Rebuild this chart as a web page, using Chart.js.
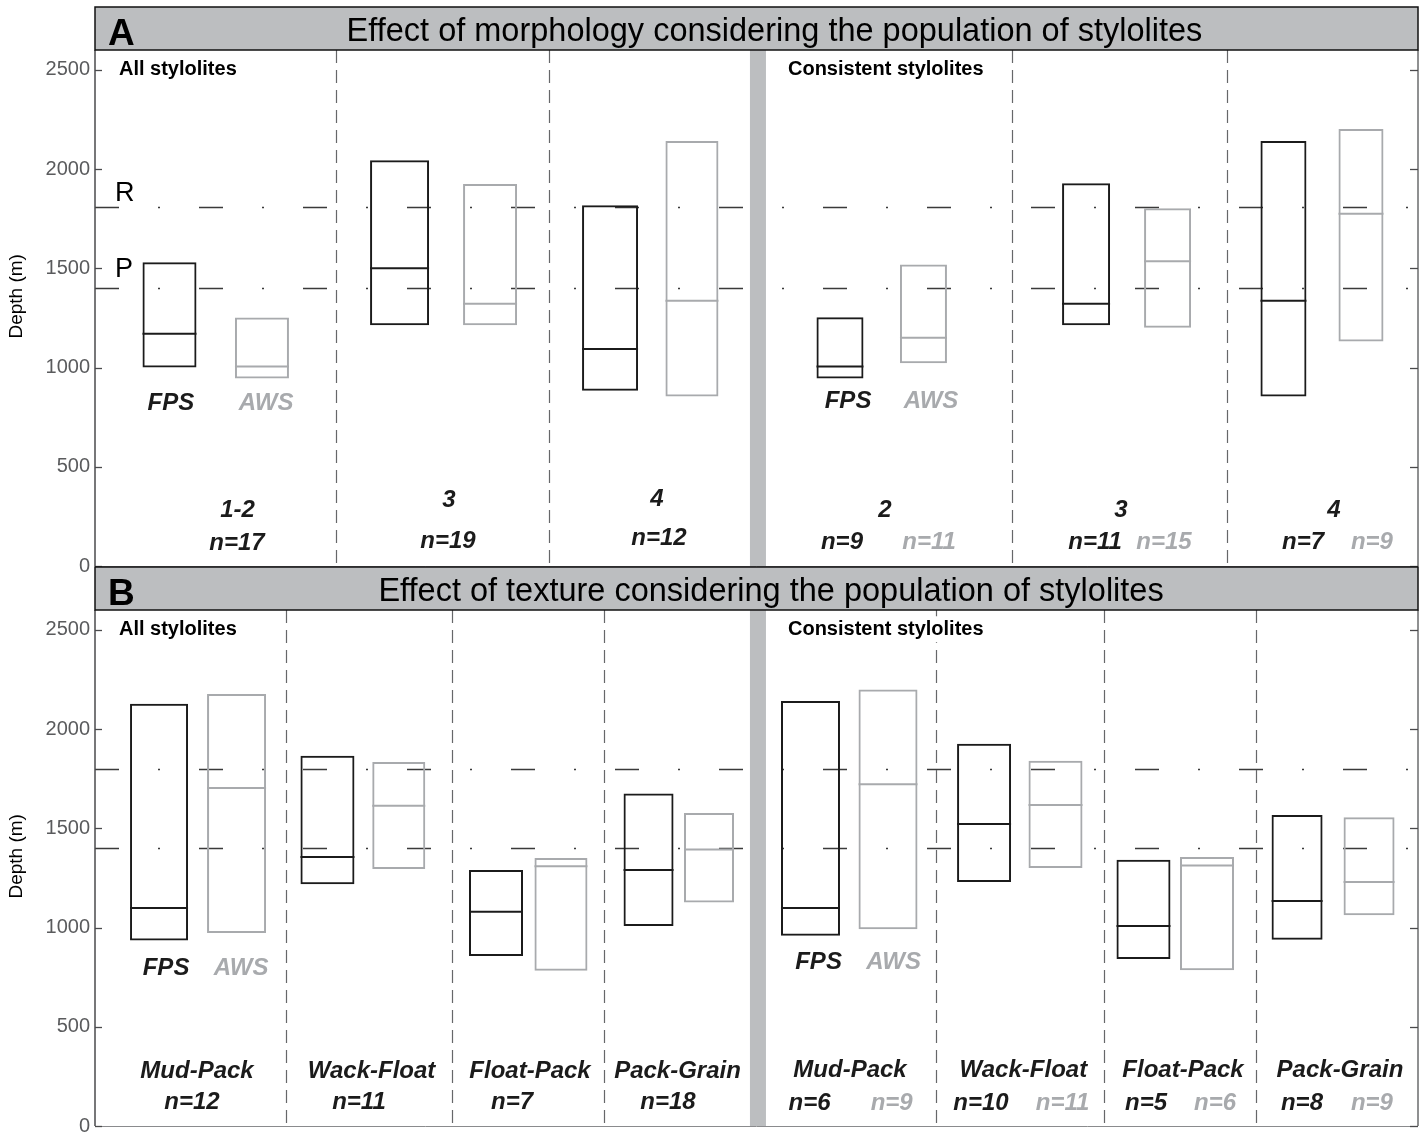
<!DOCTYPE html>
<html>
<head>
<meta charset="utf-8">
<title>Stylolite depth ranges</title>
<script src="https://cdn.jsdelivr.net/npm/chart.js@4.4.1/dist/chart.umd.min.js"></script>
<style>
  html, body { margin: 0; padding: 0; background: #fff; }
  body { width: 1420px; height: 1132px; position: relative; overflow: hidden; }
  canvas { position: absolute; left: 0; }
  #chartA { top: 0; z-index: 1; }
  #chartB { top: 560px; z-index: 2; }
</style>
</head>
<body>
<canvas id="chartA" width="1420" height="600"></canvas>
<canvas id="chartB" width="1420" height="600"></canvas>
<script>
// ---------- Panel A: morphology classes ----------
const morphAllClasses  = ['1-2', '3', '4'];
const morphAllN        = [17, 19, 12];
const morphAllFpsMin   = [1000, 1213, 883];
const morphAllFpsMed   = [1170, 1500, 1093];
const morphAllFpsMax   = [1530, 2044, 1818];
const morphAllAwsMin   = [945, 1213, 854];
const morphAllAwsMed   = [1005, 1322, 1336];
const morphAllAwsMax   = [1252, 1925, 2141];

const morphConsClasses = ['2', '3', '4'];
const morphConsFpsN    = [9, 11, 7];
const morphConsAwsN    = [11, 15, 9];
const morphConsFpsMin  = [945, 1213, 854];
const morphConsFpsMed  = [1005, 1322, 1336];
const morphConsFpsMax  = [1254, 1928, 2141];
const morphConsAwsMin  = [1022, 1200, 1131];
const morphConsAwsMed  = [1150, 1536, 1775];
const morphConsAwsMax  = [1519, 1803, 2202];

// ---------- Panel B: texture classes ----------
const textureClasses   = ['Mud-Pack', 'Wack-Float', 'Float-Pack', 'Pack-Grain'];
const textureAllN      = [12, 11, 7, 18];
const textureAllFpsMin = [935, 1218, 856, 1008];
const textureAllFpsMed = [1099, 1356, 1079, 1290];
const textureAllFpsMax = [2128, 1866, 1290, 1675];
const textureAllAwsMin = [973, 1295, 782, 1126];
const textureAllAwsMed = [1703, 1614, 1309, 1393];
const textureAllAwsMax = [2177, 1834, 1351, 1577];

const textureConsFpsN   = [6, 10, 5, 8];
const textureConsAwsN   = [9, 11, 6, 9];
const textureConsFpsMin = [958, 1230, 842, 938];
const textureConsFpsMed = [1099, 1522, 1008, 1134];
const textureConsFpsMax = [2141, 1926, 1341, 1567];
const textureConsAwsMin = [992, 1300, 785, 1062];
const textureConsAwsMed = [1722, 1618, 1312, 1229];
const textureConsAwsMax = [2200, 1841, 1356, 1556];

// ---------- shared axis / reference values ----------
const depthTicks   = [0, 500, 1000, 1500, 2000, 2500];
const depthMax     = 2600;
const refLabels    = ['R', 'P'];
const refDepthsA   = [1810, 1400];
const refDepthsB   = [1800, 1400];
const seriesNames  = ['FPS', 'AWS'];
const subsetNames  = ['All stylolites', 'Consistent stylolites'];

// ---------- styling ----------
const INK   = '#1b1b1b';
const GREY  = '#a8aaad';
const BAND  = '#bcbec0';
const FONT  = "'Liberation Sans', Arial, Helvetica, sans-serif";

// ---------- layout (x in 0-100 units across the plot, widths in px) ----------
const layoutA = {
  fpsX: [5.63, 23.02, 38.93, 56.31, 74.91, 89.83],
  awsX: [12.62, 29.86, 45.12, 62.62, 81.07, 95.69],
  fpsW: [54, 59, 56, 47, 48, 46],
  awsW: [54, 54, 53, 47, 47, 45],
  dividers: [18.20, 34.29, 69.31, 85.60],
  band: 50.11,
  subsetX: [1.81, 52.38], subsetD: 2503,
  seriesX: [5.74, 12.93, 56.92, 63.19], seriesD: [821, 821, 831, 831],
  classX: [10.77, 26.76, 42.48, 59.71, 77.55, 93.65],
  classD: [282, 332, 337, 278, 278, 278],
  fpsNX: [10.73, 26.68, 42.63, 56.46, 75.59, 91.31],
  fpsND: [116, 126, 141, 117, 117, 117],
  awsNX: [63.04, 80.80, 96.52], awsND: 117,
  refLabelX: 1.51, refLabelD: [1878, 1492],
  titleX: 51.36
};
const layoutB = {
  fpsX: [4.84, 17.57, 30.31, 41.84, 54.08, 67.20, 79.25, 90.86],
  awsX: [10.70, 22.96, 35.22, 46.41, 59.94, 72.60, 84.05, 96.30],
  fpsW: [58, 54, 54, 50, 59, 54, 54, 51],
  awsW: [59, 53, 53, 50, 59, 54, 54, 51],
  dividers: [14.41, 27.02, 38.51, 63.57, 76.23, 87.75],
  band: 50.11,
  subsetX: [1.81, 52.38], subsetD: 2503,
  seriesX: [5.37, 11.04, 54.69, 60.36], seriesD: [796, 796, 823, 823],
  classX: [7.71, 20.90, 32.88, 44.03, 57.07, 70.17, 82.24, 94.10],
  classD: [277, 277, 277, 277, 282, 282, 282, 282],
  fpsNX: [7.33, 19.95, 31.52, 43.31, 54.01, 66.97, 79.44, 91.23],
  fpsND: [121, 121, 121, 121, 116, 116, 116, 116],
  awsNX: [60.22, 73.14, 84.66, 96.52], awsND: 116,
  refLabelX: null, refLabelD: [],
  titleX: 51.10
};

function boxSet(u, lo, hi, w, color) {
  return {
    type: 'bar',
    data: [{ x: u, y: [lo, hi] }],
    backgroundColor: 'rgba(0,0,0,0)',
    borderColor: color,
    borderWidth: 2,
    borderSkipped: false,
    inflateAmount: 0,
    barThickness: w,
    maxBarThickness: w,
    barPercentage: 1,
    categoryPercentage: 1,
    grouped: false
  };
}

function medianSet(xs, meds, ws, color) {
  return {
    type: 'line',
    data: xs.map((u, i) => ({ x: u, y: meds[i] })),
    showLine: false,
    pointStyle: 'line',
    pointRadius: ws.map(w => w / 2),
    pointHoverRadius: ws.map(w => w / 2),
    pointBorderColor: color,
    pointBackgroundColor: color,
    pointBorderWidth: 2
  };
}

function text(ctx, str, px, py, font, color, align) {
  ctx.font = font;
  ctx.fillStyle = color;
  ctx.textAlign = align || 'center';
  ctx.textBaseline = 'middle';
  ctx.fillText(str, px, py);
}

function decorations(p) {
  return {
    id: 'decor' + p.letter,
    beforeDatasetsDraw(chart) {
      const { ctx, chartArea: a, scales: { x, y } } = chart;
      ctx.save();
      // dash-dot reference depths
      ctx.strokeStyle = '#3a3a3a';
      ctx.lineWidth = 1.3;
      ctx.setLineDash([24, 39, 2, 39]);
      p.refDepths.forEach(d => {
        const py = Math.round(y.getPixelForValue(d)) + 0.5;
        ctx.beginPath(); ctx.moveTo(a.left, py); ctx.lineTo(a.right, py); ctx.stroke();
      });
      // dashed class dividers
      ctx.strokeStyle = '#666769';
      ctx.lineWidth = 1.2;
      ctx.setLineDash([13, 7]);
      p.layout.dividers.forEach(u => {
        const px = Math.round(x.getPixelForValue(u)) + 0.5;
        ctx.beginPath(); ctx.moveTo(px, a.top); ctx.lineTo(px, a.bottom); ctx.stroke();
      });
      ctx.setLineDash([]);
      // band separating all / consistent stylolites
      const bx = x.getPixelForValue(p.layout.band);
      ctx.fillStyle = BAND;
      ctx.fillRect(bx - 8, a.top, 16, a.bottom - a.top);
      ctx.restore();
    },
    afterDraw(chart) {
      const { ctx, chartArea: a, scales: { x, y } } = chart;
      const L = p.layout;
      ctx.save();
      // frame
      ctx.strokeStyle = '#8a8b8d';
      ctx.lineWidth = 1;
      ctx.beginPath(); ctx.moveTo(a.left, a.bottom + 0.5); ctx.lineTo(a.right, a.bottom + 0.5); ctx.stroke();
      ctx.strokeStyle = '#4a4a4c';
      ctx.lineWidth = 1.5;
      ctx.beginPath(); ctx.moveTo(a.left, a.top); ctx.lineTo(a.left, a.bottom); ctx.stroke();
      ctx.strokeStyle = '#6a6b6d';
      ctx.beginPath(); ctx.moveTo(a.right, a.top); ctx.lineTo(a.right, a.bottom); ctx.stroke();
      // inward ticks on both sides
      ctx.strokeStyle = '#4a4a4c';
      ctx.lineWidth = 1.3;
      depthTicks.forEach(v => {
        const py = Math.round(y.getPixelForValue(v)) + 0.5;
        ctx.beginPath(); ctx.moveTo(a.left, py); ctx.lineTo(a.left + 7, py); ctx.stroke();
        ctx.beginPath(); ctx.moveTo(a.right - 8, py); ctx.lineTo(a.right, py); ctx.stroke();
      });
      // header bar
      ctx.fillStyle = BAND;
      ctx.fillRect(a.left, a.top - 43, a.right - a.left, 43);
      ctx.strokeStyle = '#111';
      ctx.lineWidth = 1.5;
      ctx.strokeRect(a.left, a.top - 43, a.right - a.left, 43);
      ctx.fillStyle = '#000';
      ctx.textBaseline = 'alphabetic';
      ctx.textAlign = 'left';
      ctx.font = 'bold 37px ' + FONT;
      ctx.fillText(p.letter, a.left + 13, a.top - 5);
      ctx.textAlign = 'center';
      ctx.font = '32.5px ' + FONT;
      ctx.fillText(p.title, x.getPixelForValue(L.titleX), a.top - 9.5);

      // axis title
      ctx.save();
      ctx.translate(17, y.getPixelForValue(1359));
      ctx.rotate(-Math.PI / 2);
      text(ctx, 'Depth (m)', 0, 0, '19px ' + FONT, '#000');
      ctx.restore();

      // subset captions, knocked out of the dividers behind them
      subsetNames.forEach((s, i) => {
        const px = x.getPixelForValue(L.subsetX[i]);
        const py = y.getPixelForValue(L.subsetD);
        ctx.font = 'bold 20px ' + FONT;
        const w = ctx.measureText(s).width;
        ctx.fillStyle = '#fff';
        ctx.fillRect(px - 2, py - 13, w + 4, 26);
        text(ctx, s, px, py, 'bold 20px ' + FONT, '#000', 'left');
      });

      // reference depth names
      if (L.refLabelX !== null) {
        refLabels.forEach((s, i) =>
          text(ctx, s, x.getPixelForValue(L.refLabelX), y.getPixelForValue(L.refLabelD[i]), '27px ' + FONT, '#000', 'left'));
      }

      const bi = 'italic bold 24px ' + FONT;
      // series names
      [0, 1, 0, 1].forEach((k, i) =>
        text(ctx, seriesNames[k], x.getPixelForValue(L.seriesX[i]), y.getPixelForValue(L.seriesD[i]), bi, k ? GREY : INK));
      // class names and counts
      p.classes.forEach((c, i) =>
        text(ctx, c, x.getPixelForValue(L.classX[i]), y.getPixelForValue(L.classD[i]), bi, INK));
      p.fpsN.forEach((n, i) =>
        text(ctx, 'n=' + n, x.getPixelForValue(L.fpsNX[i]), y.getPixelForValue(L.fpsND[i]), bi, INK));
      p.awsN.forEach((n, i) =>
        text(ctx, 'n=' + n, x.getPixelForValue(L.awsNX[i]), y.getPixelForValue(L.awsND), bi, GREY));
      ctx.restore();
    }
  };
}

function buildPanel(canvasId, p) {
  const L = p.layout;
  const datasets = [];
  L.fpsX.forEach((u, i) => datasets.push(boxSet(u, p.fpsMin[i], p.fpsMax[i], L.fpsW[i], INK)));
  L.awsX.forEach((u, i) => datasets.push(boxSet(u, p.awsMin[i], p.awsMax[i], L.awsW[i], GREY)));
  datasets.push(medianSet(L.fpsX, p.fpsMed, L.fpsW, INK));
  datasets.push(medianSet(L.awsX, p.awsMed, L.awsW, GREY));

  return new Chart(document.getElementById(canvasId), {
    type: 'bar',
    data: { datasets },
    options: {
      responsive: false,
      animation: false,
      devicePixelRatio: 1,
      events: [],
      layout: { autoPadding: false, padding: { left: 0, right: 2, top: 50, bottom: 34 } },
      plugins: { legend: { display: false }, tooltip: { enabled: false } },
      scales: {
        x: { type: 'linear', min: 0, max: 100, display: false, offset: false, ticks: { stepSize: 50 } },
        y: {
          type: 'linear', min: 0, max: depthMax, position: 'left',
          grid: { display: false, drawTicks: false },
          border: { display: false },
          afterFit: s => { s.width = 95; },
          afterBuildTicks: s => { s.ticks = depthTicks.map(v => ({ value: v })); },
          ticks: {
            padding: 5, color: '#5a5b5d',
            font: { family: FONT, size: 20 },
            callback: v => String(v)
          }
        }
      }
    },
    plugins: [decorations(p)]
  });
}

buildPanel('chartA', {
  letter: 'A',
  title: 'Effect of morphology considering the population of stylolites',
  layout: layoutA,
  refDepths: refDepthsA,
  classes: morphAllClasses.concat(morphConsClasses),
  fpsN: morphAllN.concat(morphConsFpsN),
  awsN: morphConsAwsN,
  fpsMin: morphAllFpsMin.concat(morphConsFpsMin),
  fpsMed: morphAllFpsMed.concat(morphConsFpsMed),
  fpsMax: morphAllFpsMax.concat(morphConsFpsMax),
  awsMin: morphAllAwsMin.concat(morphConsAwsMin),
  awsMed: morphAllAwsMed.concat(morphConsAwsMed),
  awsMax: morphAllAwsMax.concat(morphConsAwsMax)
});

buildPanel('chartB', {
  letter: 'B',
  title: 'Effect of texture considering the population of stylolites',
  layout: layoutB,
  refDepths: refDepthsB,
  classes: textureClasses.concat(textureClasses),
  fpsN: textureAllN.concat(textureConsFpsN),
  awsN: textureConsAwsN,
  fpsMin: textureAllFpsMin.concat(textureConsFpsMin),
  fpsMed: textureAllFpsMed.concat(textureConsFpsMed),
  fpsMax: textureAllFpsMax.concat(textureConsFpsMax),
  awsMin: textureAllAwsMin.concat(textureConsAwsMin),
  awsMed: textureAllAwsMed.concat(textureConsAwsMed),
  awsMax: textureAllAwsMax.concat(textureConsAwsMax)
});
</script>
</body>
</html>
